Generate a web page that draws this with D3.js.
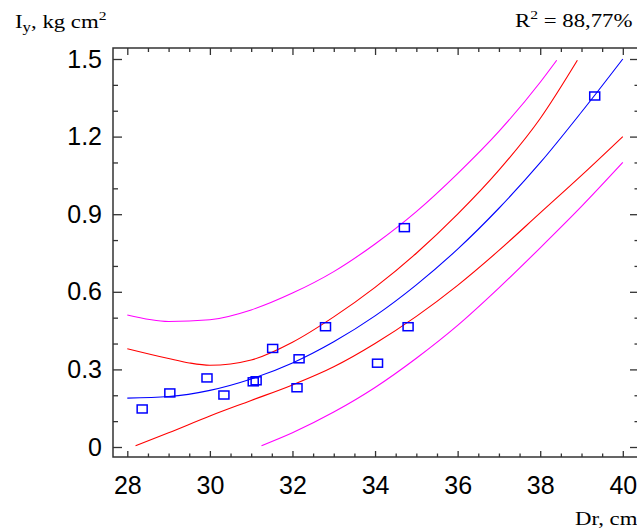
<!DOCTYPE html>
<html>
<head>
<meta charset="utf-8">
<script src="https://cdn.jsdelivr.net/npm/d3@7"></script>
<style>
  body { margin: 0; background: #fff; }
  .tick text { font-family: "Liberation Sans", Arial, sans-serif; font-size: 25px; fill: #000; }
  .tick line { stroke: #333; stroke-width: 1.3; }
  .serif { font-family: "Liberation Serif", "Times New Roman", serif; font-size: 19px; fill: #000; }
</style>
</head>
<body>
<svg id="chart" width="637" height="530"></svg>
<script>
// data
const pointsX = [28.36, 29.03, 29.93, 30.34, 31.05, 31.12, 31.52, 32.11, 32.16, 32.80, 34.06, 34.71, 34.80, 39.32];
const pointsY = [0.147, 0.209, 0.267, 0.201, 0.252, 0.256, 0.381, 0.229, 0.341, 0.465, 0.324, 0.848, 0.465, 1.357];

const fitX = [28, 29, 30, 31, 32, 33, 34, 35, 36, 37, 38, 39, 40];
const fitY = [0.189, 0.195, 0.219, 0.263, 0.325, 0.407, 0.507, 0.627, 0.765, 0.923, 1.099, 1.295, 1.50];

const confUpX = [28, 29, 29.5, 30, 30.5, 31, 32, 33, 34, 35, 36, 37, 38, 38.9];
const confUpY = [0.38, 0.342, 0.325, 0.316, 0.321, 0.336, 0.405, 0.503, 0.617, 0.749, 0.90, 1.07, 1.27, 1.495];
const confLoX = [28.2, 29, 30, 31, 32, 33, 34, 35, 36, 37, 38, 39, 40];
const confLoY = [0.005, 0.055, 0.12, 0.18, 0.24, 0.31, 0.40, 0.505, 0.625, 0.76, 0.905, 1.05, 1.20];

const predUpX = [28, 29, 30, 31, 32, 33, 34, 35, 36, 37, 38, 38.4];
const predUpY = [0.51, 0.485, 0.492, 0.53, 0.595, 0.678, 0.785, 0.91, 1.057, 1.22, 1.41, 1.495];
const predLoX = [31.25, 32, 33, 34, 35, 36, 37, 38, 39, 40];
const predLoY = [0.005, 0.055, 0.135, 0.23, 0.343, 0.47, 0.615, 0.77, 0.93, 1.10];

const xTicks = [28, 30, 32, 34, 36, 38, 40];
const yTicks = [0, 0.3, 0.6, 0.9, 1.2, 1.5];

let svg = d3.select("#chart");

let x = d3.scaleLinear().domain([28, 40]).range([127.3, 622.8]);
let y = d3.scaleLinear().domain([0, 1.5]).range([447, 59]);

// frame edges (the right one sits just outside the window)
let frameL = 113, frameR = 639, frameT = 48, frameB = 457;

let xMinor = d3.range(27.5, 40.6, 0.5).filter(v => v % 2 !== 0 && x(v) > frameL && x(v) < frameR);
let yMinor = d3.range(0, 1.55, 0.1).map(v => +v.toFixed(1)).filter(v => Math.round(v * 10) % 3 !== 0);

// ticks, all pointing into the frame
function ticks(axis, tx, ty, size, values, labels, pad) {
  let g = svg.append("g").attr("transform", "translate(" + tx + "," + ty + ")")
    .call(axis.tickValues(values).tickSize(-size).tickPadding(pad || 0)
      .tickFormat(labels ? d3.format("") : ""));
  g.select(".domain").remove();
  return g;
}

ticks(d3.axisBottom(x), 0, frameB, 6, xTicks, true, 19);
ticks(d3.axisBottom(x), 0, frameB, 3.5, xMinor, false);
ticks(d3.axisTop(x), 0, frameT, 7, xTicks, false);
ticks(d3.axisTop(x), 0, frameT, 4, xMinor, false);
ticks(d3.axisLeft(y), frameL, 0, 9, yTicks, true, 11);
ticks(d3.axisLeft(y), frameL, 0, 5, yMinor, false);
ticks(d3.axisRight(y), frameR, 0, 9, yTicks, false);
ticks(d3.axisRight(y), frameR, 0, 4.5, yMinor, false);

svg.append("rect")
  .attr("x", frameL).attr("y", frameT)
  .attr("width", frameR - frameL).attr("height", frameB - frameT)
  .attr("fill", "none").attr("stroke", "#333").attr("stroke-width", 1.5);

// curves
let line = d3.line().x(d => x(d[0])).y(d => y(d[1])).curve(d3.curveMonotoneX);

function curve(xs, ys, color) {
  svg.append("path")
    .datum(xs.map((v, i) => [v, ys[i]]))
    .attr("d", line)
    .attr("fill", "none")
    .attr("stroke", color)
    .attr("stroke-width", 1.1);
}

curve(predUpX, predUpY, "#ff00ff");
curve(predLoX, predLoY, "#ff00ff");
curve(confUpX, confUpY, "#ff0000");
curve(confLoX, confLoY, "#ff0000");
curve(fitX, fitY, "#0000ff");

// observed points
svg.selectAll(".pt")
  .data(pointsX.map((v, i) => [v, pointsY[i]]))
  .enter().append("rect")
  .attr("class", "pt")
  .attr("x", d => x(d[0]) - 5)
  .attr("y", d => y(d[1]) - 4)
  .attr("width", 10).attr("height", 8)
  .attr("fill", "none")
  .attr("stroke", "#0000ff")
  .attr("stroke-width", 1.5);

// titles
let yTitle = svg.append("text").attr("class", "serif")
  .attr("transform", "translate(15,28) scale(1.2,1)");
yTitle.append("tspan").text("I");
yTitle.append("tspan").attr("dy", 4).attr("font-size", 14).text("y");
yTitle.append("tspan").attr("dy", -4).text(", kg cm");
yTitle.append("tspan").attr("dy", -8).attr("font-size", 13).text("2");

let r2 = svg.append("text").attr("class", "serif")
  .attr("transform", "translate(515,27) scale(1.2,1)");
r2.append("tspan").text("R");
r2.append("tspan").attr("dy", -8).attr("font-size", 13).text("2");
r2.append("tspan").attr("dy", 8).text(" = 88,77%");

svg.append("text").attr("class", "serif")
  .attr("transform", "translate(575,525) scale(1.2,1)")
  .text("Dr, cm");
</script>
</body>
</html>
